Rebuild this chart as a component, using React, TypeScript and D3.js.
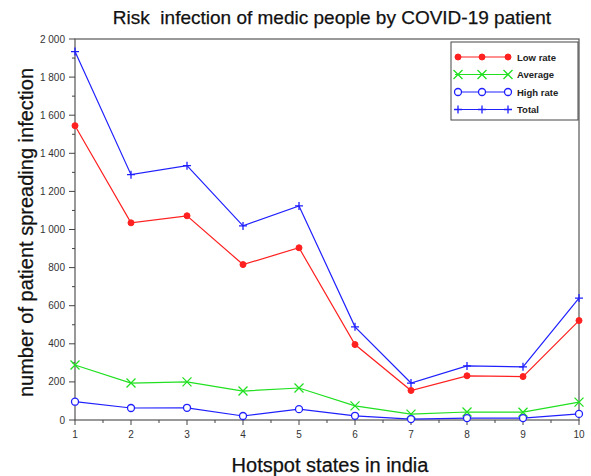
import React from "react";
import * as d3 from "d3";

const states = [1, 2, 3, 4, 5, 6, 7, 8, 9, 10];
const lowRate = [1545, 1035, 1072, 816, 904, 396, 155, 232, 228, 522];
const average = [289, 194, 200, 152, 168, 74, 31, 42, 41, 94];
const highRate = [96, 63, 64, 21, 57, 22, 5, 10, 10, 32];
const total = [1934, 1288, 1335, 1019, 1124, 489, 194, 284, 279, 640];
const yTicks = [0, 200, 400, 600, 800, 1000, 1200, 1400, 1600, 1800, 2000];

const W = 591, H = 476;
const L = 75, R = 579, T = 39, B = 420;

export default function App() {
  const x = d3.scaleLinear().domain([1, 10]).range([L, R]);
  const y = d3.scaleLinear().domain([0, 2000]).range([B, T]);
  const line = d3.line<number>().x((_, i) => x(states[i])).y((d) => y(d));
  const fmt = (v: number) => (v >= 1000 ? `${Math.floor(v / 1000)} ${String(v % 1000).padStart(3, "0")}` : String(v));
  const xMinor = d3.range(1.5, 10, 1);
  const yMinor = d3.range(100, 2000, 200);

  const series = [
    { name: "Low rate", data: lowRate, color: "#ff2020", marker: "dot" },
    { name: "Average", data: average, color: "#20e020", marker: "x" },
    { name: "High rate", data: highRate, color: "#2020ff", marker: "circle" },
    { name: "Total", data: total, color: "#2020ff", marker: "plus" },
  ];

  const marker = (m: string, cx: number, cy: number, color: string, k: string) => {
    if (m === "dot") return <circle key={k} cx={cx} cy={cy} r={3} fill={color} stroke={color} />;
    if (m === "circle") return <circle key={k} cx={cx} cy={cy} r={3.5} fill="white" stroke={color} strokeWidth={1.3} />;
    if (m === "x")
      return (
        <path key={k} d={`M${cx - 4.5},${cy - 4.5}L${cx + 4.5},${cy + 4.5}M${cx - 4.5},${cy + 4.5}L${cx + 4.5},${cy - 4.5}`} stroke={color} strokeWidth={1.3} />
      );
    return <path key={k} d={`M${cx - 4},${cy}L${cx + 4},${cy}M${cx},${cy - 4}L${cx},${cy + 4}`} stroke={color} strokeWidth={1.3} />;
  };

  return (
    <svg width={W} height={H} style={{ position: "absolute", left: 0, top: 0, background: "white" }} fontFamily="Liberation Sans, Arial, sans-serif">
      <text x={332} y={24} textAnchor="middle" fontSize={19} fill="#111" stroke="#111" strokeWidth={0.25} style={{ whiteSpace: "pre" }}>Risk  infection of medic people by COVID-19 patient</text>
      <rect x={L} y={T} width={R - L} height={B - T} fill="none" stroke="#555" strokeWidth={1.2} />
      {states.map((s) => (
        <g key={"xt" + s}>
          <line x1={x(s)} x2={x(s)} y1={B} y2={B + 5} stroke="#444" />
          <text x={x(s)} y={B + 18} textAnchor="middle" fontSize={10} fill="#333">{s}</text>
        </g>
      ))}
      {xMinor.map((s) => (
        <line key={"xm" + s} x1={x(s)} x2={x(s)} y1={B} y2={B + 3} stroke="#444" />
      ))}
      {yTicks.map((v) => (
        <g key={"yt" + v}>
          <line x1={L - 6} x2={L} y1={y(v)} y2={y(v)} stroke="#444" />
          <text x={L - 10} y={y(v) + 3.5} textAnchor="end" fontSize={10} fill="#333">{fmt(v)}</text>
        </g>
      ))}
      {yMinor.map((v) => (
        <line key={"ym" + v} x1={L - 3} x2={L} y1={y(v)} y2={y(v)} stroke="#444" />
      ))}
      {series.map((s) => (
        <g key={s.name}>
          <path d={line(s.data) || ""} fill="none" stroke={s.color} strokeWidth={1.2} />
          {s.data.map((d, i) => marker(s.marker, x(states[i]), y(d), s.color, s.name + i))}
        </g>
      ))}
      <text transform={`translate(33,${(T + B) / 2 + 3}) rotate(-90)`} textAnchor="middle" fontSize={20} fill="#111" stroke="#111" strokeWidth={0.25}>number of patient spreading infection</text>
      <text x={330} y={472} textAnchor="middle" fontSize={20} fill="#111" stroke="#111" strokeWidth={0.25}>Hotspot states in india</text>
      <g>
        <rect x={451} y={42} width={127} height={78} fill="white" stroke="#444" strokeWidth={1} />
        {series.map((s, i) => {
          const ly = 57 + i * 17.5;
          return (
            <g key={"lg" + s.name}>
              <line x1={455} x2={508} y1={ly} y2={ly} stroke={s.color} strokeWidth={1.2} />
              {[458, 482, 508].map((mx, j) => marker(s.marker, mx, ly, s.color, "lm" + i + j))}
              <text x={517} y={ly + 3.5} fontSize={9.5} fontWeight="bold" fill="#222">{s.name}</text>
            </g>
          );
        })}
      </g>
    </svg>
  );
}
